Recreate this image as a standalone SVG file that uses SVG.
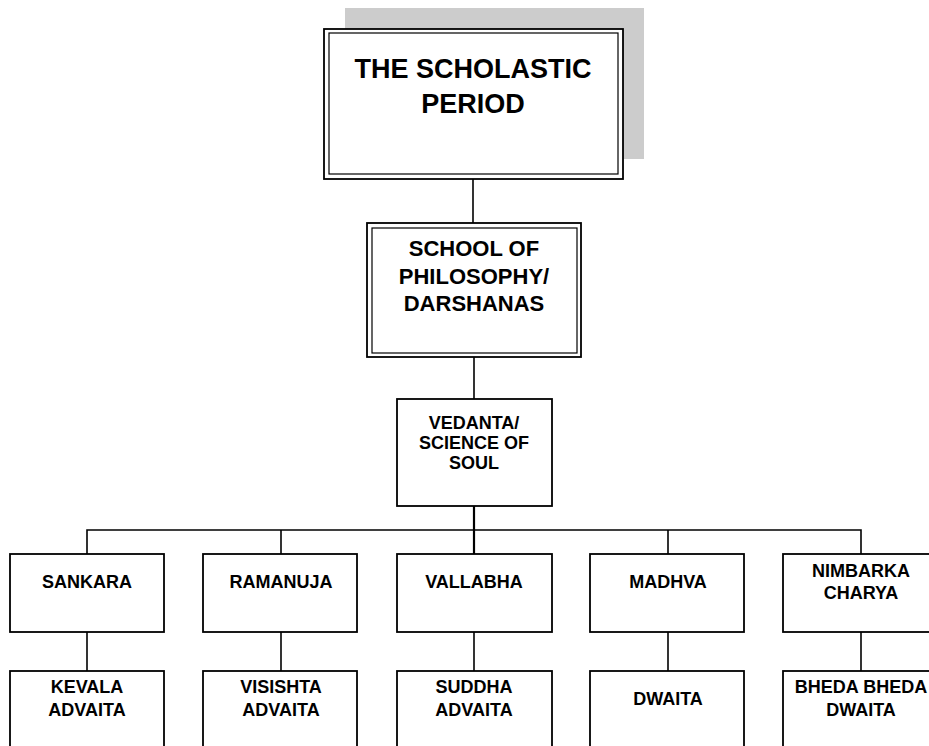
<svg xmlns="http://www.w3.org/2000/svg" width="929" height="746" viewBox="0 0 929 746">
  <style>
    .box { fill: #ffffff; stroke: #000000; stroke-width: 1.8; }
    .thin { fill: none; stroke: #000000; stroke-width: 1.2; }
    .link { fill: none; stroke: #000000; stroke-width: 1.6; }
    .lbl { font-family: "Liberation Sans", Arial, sans-serif; font-weight: bold; fill: #000000; text-anchor: middle; }
    .t27 { font-size: 27px; }
    .t22 { font-size: 22px; }
    .t18 { font-size: 18px; }
  </style>
  <rect width="929" height="746" fill="#ffffff"/>

  <!-- connectors -->
  <g id="connectors">
    <line class="link" x1="473" y1="179" x2="473" y2="223"/>
    <line class="link" x1="474" y1="357" x2="474" y2="399"/>
    <line class="link" x1="474" y1="506" x2="474" y2="554" style="stroke-width:2.2"/>
    <polyline class="link" points="87,554 87,530 861,530 861,554"/>
    <line class="link" x1="281" y1="530" x2="281" y2="554"/>
    <line class="link" x1="668" y1="530" x2="668" y2="554"/>
    <line class="link" x1="87" y1="632" x2="87" y2="671"/>
    <line class="link" x1="281" y1="632" x2="281" y2="671"/>
    <line class="link" x1="474" y1="632" x2="474" y2="671"/>
    <line class="link" x1="668" y1="632" x2="668" y2="671"/>
    <line class="link" x1="861" y1="632" x2="861" y2="671"/>
  </g>

  <!-- root: shaded, double-framed -->
  <g id="scholastic-period">
    <rect x="345" y="8" width="299" height="151" fill="#cccccc"/>
    <rect class="box" x="324" y="29" width="299" height="150"/>
    <rect class="thin" x="329" y="33" width="289" height="141"/>
    <text class="lbl t27" x="473" y="78">THE SCHOLASTIC</text>
    <text class="lbl t27" x="473" y="113">PERIOD</text>
  </g>

  <g id="school-of-philosophy">
    <rect class="box" x="367" y="223" width="214" height="134"/>
    <rect class="thin" x="372" y="228" width="205" height="125"/>
    <text class="lbl t22" x="474" y="256">SCHOOL OF</text>
    <text class="lbl t22" x="474" y="284">PHILOSOPHY/</text>
    <text class="lbl t22" x="474" y="311">DARSHANAS</text>
  </g>

  <g id="vedanta">
    <rect class="box" x="397" y="399" width="155" height="107"/>
    <text class="lbl t18" x="474" y="429">VEDANTA/</text>
    <text class="lbl t18" x="474" y="449">SCIENCE OF</text>
    <text class="lbl t18" x="474" y="469">SOUL</text>
  </g>

  <!-- teachers -->
  <g id="sankara">
    <rect class="box" x="10" y="554" width="154" height="78"/>
    <text class="lbl t18" x="87" y="588">SANKARA</text>
  </g>
  <g id="ramanuja">
    <rect class="box" x="203" y="554" width="154" height="78"/>
    <text class="lbl t18" x="281" y="588">RAMANUJA</text>
  </g>
  <g id="vallabha">
    <rect class="box" x="397" y="554" width="155" height="78"/>
    <text class="lbl t18" x="474" y="588">VALLABHA</text>
  </g>
  <g id="madhva">
    <rect class="box" x="590" y="554" width="154" height="78"/>
    <text class="lbl t18" x="668" y="588">MADHVA</text>
  </g>
  <g id="nimbarka-charya">
    <rect class="box" x="783" y="554" width="160" height="78"/>
    <text class="lbl t18" x="861" y="577">NIMBARKA</text>
    <text class="lbl t18" x="861" y="599">CHARYA</text>
  </g>

  <!-- doctrines -->
  <g id="kevala-advaita">
    <rect class="box" x="10" y="671" width="154" height="90"/>
    <text class="lbl t18" x="87" y="693">KEVALA</text>
    <text class="lbl t18" x="87" y="716">ADVAITA</text>
  </g>
  <g id="visishta-advaita">
    <rect class="box" x="203" y="671" width="154" height="90"/>
    <text class="lbl t18" x="281" y="693">VISISHTA</text>
    <text class="lbl t18" x="281" y="716">ADVAITA</text>
  </g>
  <g id="suddha-advaita">
    <rect class="box" x="397" y="671" width="155" height="90"/>
    <text class="lbl t18" x="474" y="693">SUDDHA</text>
    <text class="lbl t18" x="474" y="716">ADVAITA</text>
  </g>
  <g id="dwaita">
    <rect class="box" x="590" y="671" width="154" height="90"/>
    <text class="lbl t18" x="668" y="705">DWAITA</text>
  </g>
  <g id="bheda-bheda-dwaita">
    <rect class="box" x="783" y="671" width="160" height="90"/>
    <text class="lbl t18" x="861" y="693">BHEDA BHEDA</text>
    <text class="lbl t18" x="861" y="716">DWAITA</text>
  </g>
</svg>
